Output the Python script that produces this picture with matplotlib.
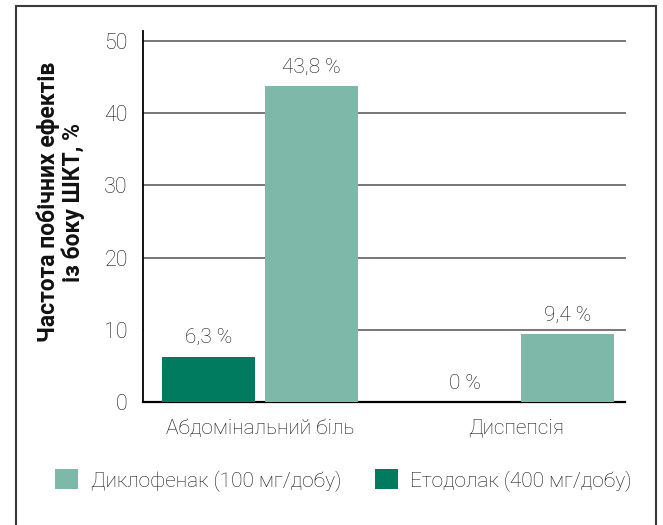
import matplotlib
matplotlib.use("Agg")
import matplotlib.pyplot as plt
from matplotlib.patches import Rectangle

categories = ["Абдомінальний біль", "Диспепсія"]
etodolak = [6.3, 0]
diclofenac = [43.8, 9.4]
etodolak_labels = ["6,3 %", "0 %"]
diclofenac_labels = ["43,8 %", "9,4 %"]
yticks = [0, 10, 20, 30, 40, 50]

dark = "#007B5F"
light = "#7DB8A9"
txt = "#161616"

plt.rcParams["font.family"] = ["Roboto", "DejaVu Sans"]
plt.rcParams["font.weight"] = "light"

fig = plt.figure(figsize=(6.63, 5.25), dpi=100)
ax = fig.add_axes([0.2157, 0.2343, 0.7285, 0.7067])

# рамка навколо всього рисунка
fig.patches.append(Rectangle((15.5 / 663, -0.05), (656 - 15.5) / 663, 1.05 - 6 / 525,
                             transform=fig.transFigure, fill=False,
                             ec="#3a3a3a", lw=1.5))

x = [0, 1]
w = 0.363
off = 0.201
b1 = ax.bar([i - off for i in x], etodolak, w, color=dark, zorder=3,
            label="Етодолак (400 мг/добу)")
b2 = ax.bar([i + off for i in x], diclofenac, w, color=light, zorder=3,
            label="Диклофенак (100 мг/добу)")

for bars, labs in [(b1, etodolak_labels), (b2, diclofenac_labels)]:
    for r, t in zip(bars, labs):
        ax.annotate("        " + t + "        ", (r.get_x() + r.get_width() / 2, r.get_height()),
                    xytext=(0, 9.5), textcoords="offset points", ha="center", va="baseline",
                    fontsize=15, color=txt, zorder=2.5,
                    bbox=dict(fc="white", ec="none", boxstyle="square,pad=0.05"))

ax.set_xlim(-0.457, 1.43)
ax.set_ylim(0, 51.4)
ax.set_yticks(yticks)
ax.set_xticks(x)
ax.set_xticklabels(categories)
ax.tick_params(axis="both", length=0, labelsize=15.5, colors=txt)
ax.tick_params(axis="x", labelsize=15)
ax.tick_params(axis="y", pad=11)
ax.tick_params(axis="x", pad=12)

for y in yticks[1:]:
    ax.axhline(y, color="#777777", lw=1.4, zorder=1)

ax.spines["top"].set_visible(False)
ax.spines["right"].set_visible(False)
ax.spines["left"].set_linewidth(1.3)
ax.spines["bottom"].set_linewidth(1.6)
ax.spines["bottom"].set_bounds(-0.457, 1.425)

fig.text(61 / 663, 1 - 202 / 525, "Частота побічних ефектів\nіз боку ШКТ, %",
         rotation=90, ha="center", va="center", multialignment="center",
         fontsize=16.5, fontweight="bold", color="#111111", linespacing=1.08)

h, l = ax.get_legend_handles_labels()
fig.legend(h[::-1], l[::-1], loc="center", bbox_to_anchor=((55 + 632) / 2 / 663, 1 - 480 / 525),
           ncol=2, frameon=False, fontsize=15, handlelength=1.1, handleheight=1.1,
           handletextpad=0.6, columnspacing=1.6, labelcolor=txt)

fig.savefig("out.png", dpi=100)
